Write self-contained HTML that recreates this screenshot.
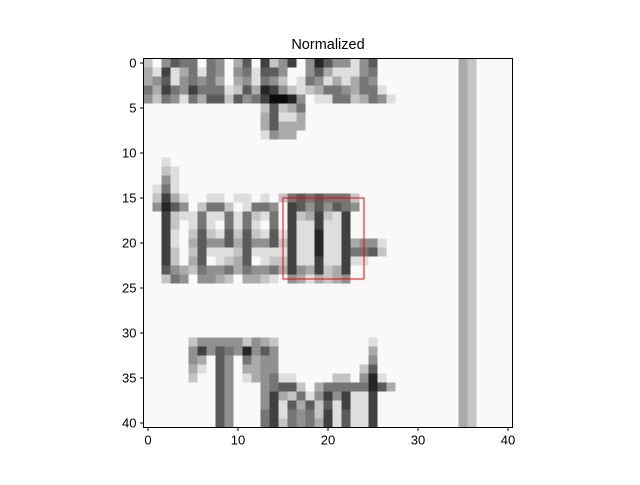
<!DOCTYPE html>
<html><head><meta charset="utf-8"><style>
body{margin:0;background:#fff;font-family:"Liberation Sans",sans-serif;}
svg text{font-family:"Liberation Sans",sans-serif;font-size:13px;fill:#000}
</style></head><body>
<svg id="chart" width="640" height="480"></svg>
<script>
const tailRow = "9999999679999";
const heads = [
"7953449459639275295135585399","6828648459548335995368885499","6538545469658457984586864599",
"4624524448736125787644564489","5745846337354200159884476458",
"9999999999999737649999999999","9999999999999638869999999999","9999999999999636669999999999",
"9999999999999856699999999999","9999999999999999999999999999","9999999999999999999999999999",
"9989999999999999999999999999","9978999999999999999999999999","9958999999999999999999999999",
"9848999999999999999999999999","9726899889889897434344479999",
"9513597447984459235353459999","9927884884847849276278299999","9927984894848949288288299999",
"9928973783737838288188299999","9928963553635537288188265589","9927973888738888288188244379",
"9927963987639877288288288999","9935674554645546256276299999","9974595567966789568676599999",
"9999999999999999999999999999","9999999999999999999999999999","9999999999999999999999999999",
"9999999999999999999999999999","9999999999999999999999999999","9999999999999999999999999999",
"9999975555575679999999999899","9999952534515359999999999699","9999956935946559999999999599",
"9999968935966559999999997399","9999979935986548899997795189","9999999935999543379644444136",
"9999999935999526748525288299","9999999935999528363738288299","9999999935999428454728388299",
"9999999935999427454628388299"];
const xTicks = [0,10,20,30,40];
const yTicks = [0,5,10,15,20,25,30,35,40];
const boxX = [15,24];
const boxY = [15,24];
const NS="http://www.w3.org/2000/svg";
const svg=document.getElementById('chart');
const x0=148, y0=63, s=9;
const X=v=>x0+v*s, Y=v=>y0+v*s;
function mk(t,a){const e=document.createElementNS(NS,t);for(const k in a)e.setAttribute(k,a[k]);svg.appendChild(e);return e;}
const t=mk('text',{x:328,y:49,'text-anchor':'middle'});t.textContent='Normalized';t.style.fontSize='14.5px';


heads.forEach((h,r)=>{const row=(h+tailRow);for(let c=0;c<41;c++){const v=+row[c];const g=Math.min(255,Math.round(12+v*26.3));
const cell=mk('rect',{x:X(c-0.5),y:Y(r-0.5),width:s+0.3,height:s+0.3,fill:`rgb(${g},${g},${g})`});

}});
const box=mk('rect',{x:X(boxX[0]),y:Y(boxY[0]),width:X(boxX[1])-X(boxX[0]),height:Y(boxY[1])-Y(boxY[0]),fill:'none',stroke:'#f00','stroke-width':1});


const fr=mk('rect',{x:X(-0.5),y:Y(-0.5),width:41*s,height:41*s,fill:'none',stroke:'#000','stroke-width':1});


xTicks.forEach(v=>{mk('line',{x1:X(v),x2:X(v),y1:Y(40.5),y2:Y(40.5)+3.5,stroke:'#000'});
const l=mk('text',{x:X(v),y:Y(40.5)+17,'text-anchor':'middle'});l.textContent=v;

});
yTicks.forEach(v=>{mk('line',{x1:X(-0.5),x2:X(-0.5)-3.5,y1:Y(v),y2:Y(v),stroke:'#000'});
const l=mk('text',{x:X(-0.5)-7,y:Y(v)+4.5,'text-anchor':'end'});l.textContent=v;

});
</script>
</body></html>
